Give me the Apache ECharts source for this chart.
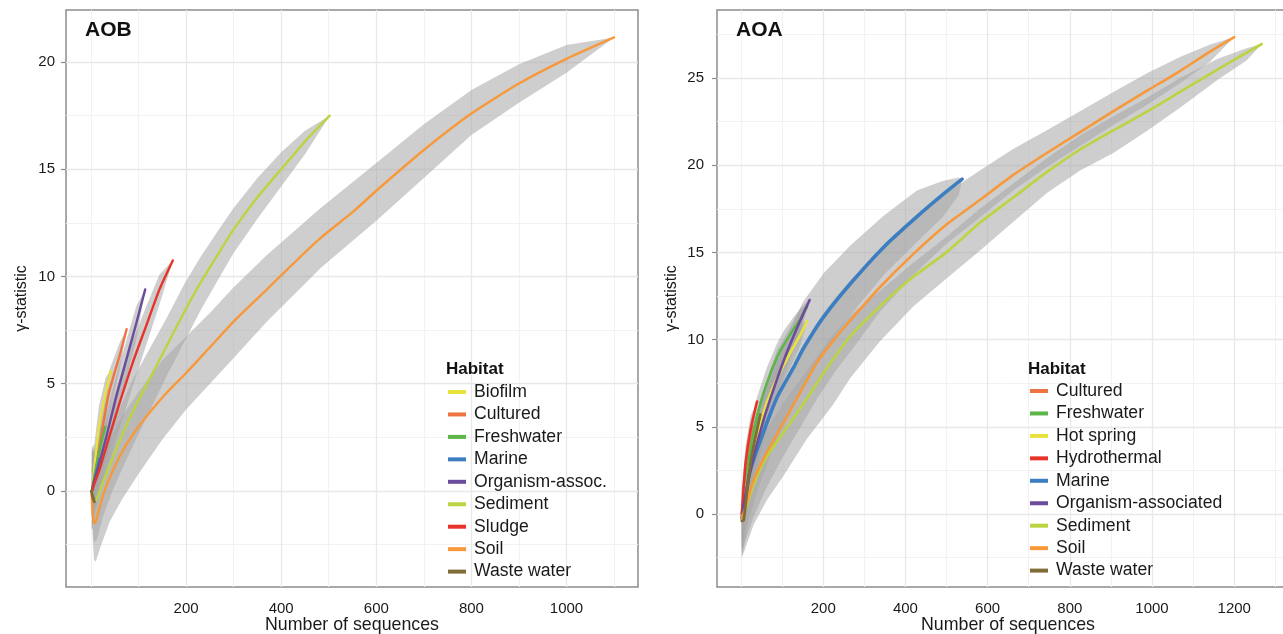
<!DOCTYPE html>
<html>
<head>
<meta charset="utf-8">
<title>gamma statistic</title>
<script src="https://cdn.jsdelivr.net/npm/echarts@6/dist/echarts.min.js"></script>
<style>
    html, body { margin: 0; padding: 0; background: #fff; }
    #main { width: 1283px; height: 634px; }
</style>
</head>
<body>
<div id="main"></div>
<script>
'use strict';

// ---- AOB panel: [sequences, gamma] ----
var aobNames = ['Biofilm', 'Cultured', 'Freshwater', 'Marine', 'Organism-assoc.', 'Sediment', 'Sludge', 'Soil', 'Waste water'];

var aobBiofilm = [[2, 0], [7, 1.1], [17, 3.0], [31, 4.6], [42, 5.6]];
var aobCultured = [[2, 0], [7, 0.6], [21, 2.5], [38, 4.6], [60, 6.3], [75, 7.55]];
var aobFreshwater = [[2, 0], [8, 0.8], [20, 2.1], [30, 3.0]];
var aobMarine = [[2, 0], [8, 0.6], [18, 1.5]];
var aobOrganism = [[2, 0], [6, 0.4], [14, 1.0], [32, 2.5], [53, 4.4], [74, 6.1], [95, 7.8], [114, 9.4]];
var aobSediment = [[2, 0], [6, -0.5], [12, -0.4], [25, 0.4], [45, 1.5], [65, 2.6], [90, 3.8], [125, 5.3], [160, 6.8],
    [195, 8.3], [230, 9.7], [266, 11.0], [300, 12.2], [350, 13.7], [400, 15.0], [450, 16.3], [502, 17.5]];
var aobSludge = [[2, 0], [8, 0.4], [18, 1.0], [38, 2.5], [60, 4.1], [88, 6.0], [116, 7.7], [144, 9.4], [172, 10.75]];
var aobSoil = [[1, 0], [3, -0.9], [6, -1.45], [9, -1.5], [13, -1.2], [20, -0.6], [30, 0.1], [45, 0.9], [65, 1.8],
    [90, 2.7], [125, 3.7], [160, 4.6], [200, 5.5], [250, 6.7], [300, 7.9], [370, 9.4], [430, 10.7], [483, 11.8],
    [550, 13.0], [600, 14.0], [700, 15.9], [800, 17.6], [900, 19.0], [1000, 20.15], [1100, 21.15]];
var aobWaste = [[1, 0], [4, -0.3], [7, -0.5]];

// grey envelopes: [sequences, low, high]
var aobBiofilmBand = [[2, -1.8, 2.0], [7, -0.1, 2.2], [17, 1.9, 4.0], [31, 3.8, 5.3], [42, 5.6, 5.6]];
var aobCulturedBand = [[2, -1.8, 2.0], [7, -0.6, 1.8], [21, 1.4, 3.5], [38, 3.6, 5.6], [60, 5.6, 6.9], [75, 7.55, 7.55]];
var aobFreshwaterBand = [[2, -1.8, 1.8], [8, -0.4, 2.0], [20, 1.2, 3.0], [30, 3.0, 3.0]];
var aobMarineBand = [[2, -1.8, 1.8], [8, -0.4, 1.6], [18, 1.5, 1.5]];
var aobOrganismBand = [[2, -1.8, 1.8], [6, -1.0, 1.6], [14, -0.2, 2.2], [32, 1.4, 3.6], [53, 3.4, 5.4], [74, 5.2, 7.0],
    [95, 7.0, 8.6], [114, 9.4, 9.4]];
var aobSedimentBand = [[2, -1.2, 1.2], [6, -2.4, 1.0], [12, -2.3, 1.2], [25, -1.2, 1.9], [45, 0.0, 3.0], [65, 1.0, 4.1],
    [90, 2.2, 5.3], [125, 3.8, 6.7], [160, 5.4, 8.1], [195, 6.9, 9.6], [230, 8.4, 10.9], [266, 9.8, 12.1],
    [300, 11.1, 13.2], [350, 12.7, 14.6], [400, 14.2, 15.8], [450, 15.7, 16.8], [502, 17.5, 17.5]];
var aobSludgeBand = [[2, -1.8, 1.8], [8, -1.0, 1.6], [18, -0.3, 2.2], [38, 1.3, 3.7], [60, 2.9, 5.2], [88, 4.9, 7.0],
    [116, 6.8, 8.6], [144, 8.7, 10.1], [172, 10.75, 10.75]];
var aobSoilBand = [[2, -1.5, 0.8], [6, -3.2, 0.5], [10, -3.3, 0.6], [20, -2.6, 1.3], [40, -1.4, 2.4], [65, -0.4, 3.5],
    [100, 0.8, 4.6], [150, 2.4, 6.1], [200, 3.8, 7.2], [250, 5.0, 8.3], [300, 6.2, 9.5], [370, 7.9, 11.0],
    [483, 10.4, 13.2], [600, 12.6, 15.3], [700, 14.6, 17.1], [800, 16.6, 18.7], [900, 18.1, 19.9],
    [1000, 19.5, 20.8], [1100, 21.15, 21.15]];
var aobWasteBand = [[1, -1.2, 1.2], [7, -1.0, 0.2]];

// ---- AOA panel ----
var aoaNames = ['Cultured', 'Freshwater', 'Hot spring', 'Hydrothermal', 'Marine', 'Organism-associated', 'Sediment', 'Soil', 'Waste water'];

var aoaCultured = [[2, 0], [8, 1.5], [18, 3.3], [30, 5.0]];
var aoaFreshwater = [[2, -0.2], [10, 1.5], [23, 3.7], [39, 5.6], [63, 7.5], [88, 9.0], [104, 9.7], [128, 10.6],
    [145, 11.2], [161, 11.9]];
var aoaHotSpring = [[2, -0.2], [10, 1.2], [30, 3.6], [60, 6.2], [90, 7.9], [128, 9.6], [145, 10.3], [161, 11.05]];
var aoaHydrothermal = [[2, 0], [5, 1.0], [11, 2.9], [23, 4.8], [39, 6.45]];
var aoaMarine = [[2, -0.2], [7, 0.1], [20, 2.3], [47, 4.2], [88, 6.7], [128, 8.4], [152, 9.5], [201, 11.3],
    [266, 13.2], [347, 15.3], [428, 17.05], [490, 18.3], [538, 19.2]];
var aoaOrganism = [[2, -0.3], [10, 1.0], [31, 3.3], [55, 5.4], [80, 7.2], [104, 8.8], [128, 10.2], [148, 11.3], [167, 12.27]];
var aoaSediment = [[2, -0.3], [10, 0.2], [31, 1.7], [63, 3.3], [104, 4.7], [160, 6.6], [193, 7.8], [225, 8.9],
    [266, 10.2], [338, 11.9], [419, 13.6], [500, 15.0], [581, 16.7], [660, 18.1], [744, 19.6], [825, 20.9],
    [906, 22.0], [990, 23.1], [1068, 24.2], [1160, 25.5], [1267, 26.95]];
var aoaSoil = [[2, -0.2], [10, 0.3], [30, 1.9], [60, 3.4], [100, 5.1], [145, 7.0], [185, 8.7], [230, 10.1],
    [266, 11.1], [338, 13.0], [419, 14.9], [500, 16.6], [581, 18.0], [660, 19.4], [744, 20.7], [825, 21.9],
    [906, 23.1], [990, 24.3], [1068, 25.4], [1140, 26.5], [1200, 27.35]];
var aoaWaste = [[2, -0.4], [6.5, -0.35], [15, 1.4], [23, 2.9], [35, 4.4], [47, 5.7]];

var aoaCulturedBand = [[2, -1.5, 1.4], [8, 0.4, 2.6], [18, 2.3, 4.2], [30, 5.0, 5.0]];
var aoaFreshwaterBand = [[2, -2.0, 1.5], [10, -0.5, 2.8], [23, 1.9, 4.9], [39, 3.9, 6.7], [63, 6.1, 8.4],
    [88, 7.8, 9.8], [104, 8.6, 10.5], [128, 9.7, 11.3], [145, 10.5, 11.8], [161, 11.9, 11.9]];
var aoaHotSpringBand = [[2, -2.0, 1.3], [10, 0.0, 2.4], [30, 2.4, 4.8], [60, 5.0, 7.3], [90, 6.9, 8.9],
    [128, 8.8, 10.4], [145, 9.7, 10.9], [161, 11.05, 11.05]];
var aoaHydrothermalBand = [[2, -1.5, 1.5], [5, -0.3, 2.2], [11, 1.8, 3.9], [23, 3.9, 5.6], [39, 6.45, 6.45]];
var aoaMarineBand = [[2, -2.2, 1.2], [7, -1.8, 2.2], [20, -0.2, 4.3], [47, 1.8, 6.6], [88, 4.4, 9.4],
    [128, 6.2, 11.1], [152, 7.3, 12.2], [201, 9.3, 13.8], [266, 11.4, 15.4], [347, 13.7, 17.1],
    [428, 15.6, 18.55], [490, 17.0, 19.1], [530, 18.3, 19.3], [538, 19.2, 19.2]];
var aoaOrganismBand = [[2, -2.0, 1.3], [10, -0.3, 2.3], [31, 2.0, 4.6], [55, 4.2, 6.6], [80, 6.1, 8.2],
    [104, 7.9, 9.7], [128, 9.4, 11.0], [148, 10.7, 11.9], [167, 12.27, 12.27]];
var aoaSedimentBand = [[2, -2.5, 1.0], [10, -2.0, 1.8], [31, -0.6, 3.3], [63, 0.8, 4.9], [104, 2.2, 6.4],
    [160, 4.3, 8.2], [193, 5.3, 9.3], [225, 6.3, 10.3], [266, 7.8, 11.4], [338, 9.9, 12.8], [419, 11.9, 14.4],
    [500, 13.5, 15.9], [581, 15.1, 17.5], [660, 16.7, 18.9], [744, 18.4, 20.4], [825, 19.7, 21.7],
    [906, 20.7, 22.8], [990, 22.0, 23.9], [1068, 23.3, 25.0], [1160, 24.9, 26.1], [1230, 26.0, 26.7],
    [1267, 26.95, 26.95]];
var aoaSoilBand = [[2, -2.4, 0.8], [10, -1.6, 1.8], [30, -0.2, 3.6], [60, 1.4, 5.4], [100, 3.2, 7.3],
    [145, 5.0, 9.3], [185, 6.6, 11.0], [230, 8.2, 12.4], [266, 9.3, 13.4], [338, 11.6, 15.1], [419, 13.7, 16.8],
    [500, 15.5, 18.4], [581, 17.0, 19.7], [660, 18.5, 20.9], [744, 19.9, 22.0], [825, 21.1, 23.1],
    [906, 22.3, 24.2], [990, 23.5, 25.3], [1068, 24.7, 26.2], [1140, 25.9, 26.9], [1200, 27.35, 27.35]];
var aoaWasteBand = [[2, -2.6, 0.6], [6.5, -1.5, 0.8], [15, 0.3, 2.5], [23, 1.9, 3.9], [35, 3.5, 5.3], [47, 5.7, 5.7]];

// ticks and grid lines
var aobXLabels = [200, 400, 600, 800, 1000];
var aobXMinor = [0, 100, 300, 500, 700, 900, 1100];
var aobYLabels = [0, 5, 10, 15, 20];
var aobYMinor = [-2.5, 2.5, 7.5, 12.5, 17.5];
var aoaXLabels = [200, 400, 600, 800, 1000, 1200];
var aoaXMinor = [0, 100, 300, 500, 700, 900, 1100, 1300];
var aoaYLabels = [0, 5, 10, 15, 20, 25];
var aoaYMinor = [-2.5, 2.5, 7.5, 12.5, 17.5, 22.5, 27.5];

(function () {
    var colors = {
        'Biofilm': '#e8e23c',
        'Hot spring': '#e8e23c',
        'Cultured': '#ee7443',
        'Freshwater': '#5cb549',
        'Hydrothermal': '#e8332b',
        'Sludge': '#e8332b',
        'Marine': '#3d7ec1',
        'Organism-assoc.': '#6b4b9c',
        'Organism-associated': '#6b4b9c',
        'Sediment': '#bad442',
        'Soil': '#f7993b',
        'Waste water': '#7f6c36'
    };
    var font = '"Liberation Sans", Arial, Helvetica, sans-serif';
    var ink = '#1a1a1a';

    var myChart = echarts.init(document.getElementById('main'));

    // grid lines drawn as mark lines so they do not depend on the axis min
    function gridLines(gi, xMajor, xMinor, yMajor, yMinor) {
        var lines = [];
        var minor = { color: '#f2f2f2', width: 1, type: 'solid' };
        var major = { color: '#e8e8e8', width: 1.3, type: 'solid' };
        xMinor.forEach(function (v) { lines.push({ xAxis: v, lineStyle: minor }); });
        yMinor.forEach(function (v) { lines.push({ yAxis: v, lineStyle: minor }); });
        xMajor.forEach(function (v) { lines.push({ xAxis: v, lineStyle: major }); });
        yMajor.forEach(function (v) { lines.push({ yAxis: v, lineStyle: major }); });
        return {
            type: 'line', xAxisIndex: gi, yAxisIndex: gi, z: 1, silent: true,
            data: [[500, 10]], symbol: 'none', lineStyle: { opacity: 0 },
            markLine: {
                z: 1, silent: true, symbol: ['none', 'none'], label: { show: false },
                emphasis: { disabled: true }, animation: false, data: lines
            }
        };
    }

    // one grey polygon per envelope
    function band(gi, rows) {
        return {
            type: 'custom', xAxisIndex: gi, yAxisIndex: gi, z: 2, silent: true, clip: true,
            data: rows, encode: { x: 0, y: [1, 2] },
            renderItem: function (params, api) {
                if (params.dataIndex !== 0) return null;
                var pts = [];
                var i;
                for (i = 0; i < rows.length; i++) pts.push(api.coord([rows[i][0], rows[i][2]]));
                for (i = rows.length - 1; i >= 0; i--) pts.push(api.coord([rows[i][0], rows[i][1]]));
                return { type: 'polygon', shape: { points: pts }, style: { fill: 'rgba(165,165,165,0.55)' } };
            }
        };
    }

    function curve(gi, name, pts, width) {
        return {
            type: 'line', name: name, xAxisIndex: gi, yAxisIndex: gi, z: 2,
            data: pts, showSymbol: false, symbol: 'none', smooth: 0.2,
            color: colors[name],
            lineStyle: { width: width, color: colors[name], cap: 'round', join: 'round' }
        };
    }

    // each habitat: its envelope, then its line (later envelopes veil earlier lines)
    var series = [
        gridLines(0, aobXLabels, aobXMinor, aobYLabels, aobYMinor),
        gridLines(1, aoaXLabels, aoaXMinor, aoaYLabels, aoaYMinor),
        band(0, aobBiofilmBand), curve(0, 'Biofilm', aobBiofilm, 2.4),
        band(0, aobCulturedBand), curve(0, 'Cultured', aobCultured, 2.4),
        band(0, aobFreshwaterBand), curve(0, 'Freshwater', aobFreshwater, 2.4),
        band(0, aobMarineBand), curve(0, 'Marine', aobMarine, 2.4),
        band(0, aobOrganismBand), curve(0, 'Organism-assoc.', aobOrganism, 2.4),
        band(0, aobSedimentBand), curve(0, 'Sediment', aobSediment, 2.4),
        band(0, aobSludgeBand), curve(0, 'Sludge', aobSludge, 2.4),
        band(0, aobSoilBand), curve(0, 'Soil', aobSoil, 2.4),
        band(0, aobWasteBand), curve(0, 'Waste water', aobWaste, 3),
        band(1, aoaCulturedBand), curve(1, 'Cultured', aoaCultured, 2.6),
        band(1, aoaFreshwaterBand), curve(1, 'Freshwater', aoaFreshwater, 2.6),
        band(1, aoaHotSpringBand), curve(1, 'Hot spring', aoaHotSpring, 2.6),
        band(1, aoaHydrothermalBand), curve(1, 'Hydrothermal', aoaHydrothermal, 2.6),
        band(1, aoaMarineBand), curve(1, 'Marine', aoaMarine, 3.6),
        band(1, aoaOrganismBand), curve(1, 'Organism-associated', aoaOrganism, 2.6),
        band(1, aoaSedimentBand), curve(1, 'Sediment', aoaSediment, 2.6),
        band(1, aoaSoilBand), curve(1, 'Soil', aoaSoil, 2.6),
        band(1, aoaWasteBand), curve(1, 'Waste water', aoaWaste, 2.8)
    ];

    function xAxis(gi, min, max, labels) {
        return {
            type: 'value', gridIndex: gi, min: min, max: max,
            name: 'Number of sequences', nameLocation: 'middle', nameGap: 29, nameMoveOverlap: false,
            nameTextStyle: { fontSize: 17.8, color: ink, fontFamily: font },
            axisLine: { show: false, onZero: false }, axisTick: { show: false }, splitLine: { show: false },
            axisLabel: {
                customValues: labels, margin: 14, fontSize: 15, color: ink, fontFamily: font,
                formatter: function (v) { return String(v); }
            }
        };
    }

    function yAxis(gi, min, max, labels, margin, gap) {
        return {
            type: 'value', gridIndex: gi, min: min, max: max,
            name: 'γ-statistic', nameLocation: 'middle', nameGap: gap,
            nameTextStyle: { fontSize: 16, color: ink, fontFamily: font },
            axisLine: { show: false, onZero: false }, splitLine: { show: false },
            axisTick: { show: true, customValues: labels, length: 5, lineStyle: { color: '#8c8c8c', width: 1.2 } },
            axisLabel: {
                customValues: labels, margin: margin, fontSize: 15, color: ink, fontFamily: font,
                formatter: function (v) { return String(v); }
            }
        };
    }

    function legend(left, top, names) {
        return {
            orient: 'vertical', left: left, top: top, padding: 0, z: 10,
            icon: 'rect', itemWidth: 18, itemHeight: 4, itemGap: 4.45,
            selectedMode: false, data: names,
            textStyle: { fontSize: 17.6, lineHeight: 17, color: ink, fontFamily: font, padding: [0, 0, 0, 3] }
        };
    }

    var titleStyle = { fontWeight: 'bold', color: '#111', fontFamily: font };
    var option = {
        animation: false,
        backgroundColor: '#fff',
        textStyle: { fontFamily: font },
        title: [
            { text: 'AOB', left: 85, top: 20, padding: 0, textStyle: Object.assign({ fontSize: 21 }, titleStyle) },
            { text: 'AOA', left: 736, top: 20, padding: 0, textStyle: Object.assign({ fontSize: 21 }, titleStyle) },
            { text: 'Habitat', left: 446, top: 361, padding: 0, textStyle: Object.assign({ fontSize: 17 }, titleStyle) },
            { text: 'Habitat', left: 1028, top: 361, padding: 0, textStyle: Object.assign({ fontSize: 17 }, titleStyle) }
        ],
        legend: [
            legend(448, 383, aobNames),
            legend(1030, 382, aoaNames)
        ],
        grid: [
            {
                left: 66, top: 10, width: 572, height: 577, show: true, outerBoundsMode: 'none', containLabel: false,
                borderColor: '#8c8c8c', borderWidth: 1.5, backgroundColor: '#fff'
            },
            {
                left: 717, top: 10, width: 582, height: 577, show: true, outerBoundsMode: 'none', containLabel: false,
                borderColor: '#8c8c8c', borderWidth: 1.5, backgroundColor: '#fff'
            }
        ],
        xAxis: [
            xAxis(0, -52.6, 1150.4, aobXLabels),
            xAxis(1, -58.4, 1357.6, aoaXLabels)
        ],
        yAxis: [
            yAxis(0, -4.48, 22.43, aobYLabels, 11, 36),
            yAxis(1, -4.19, 28.9, aoaYLabels, 13, 37)
        ],
        series: series
    };

    myChart.setOption(option);
})();
</script>
</body>
</html>
